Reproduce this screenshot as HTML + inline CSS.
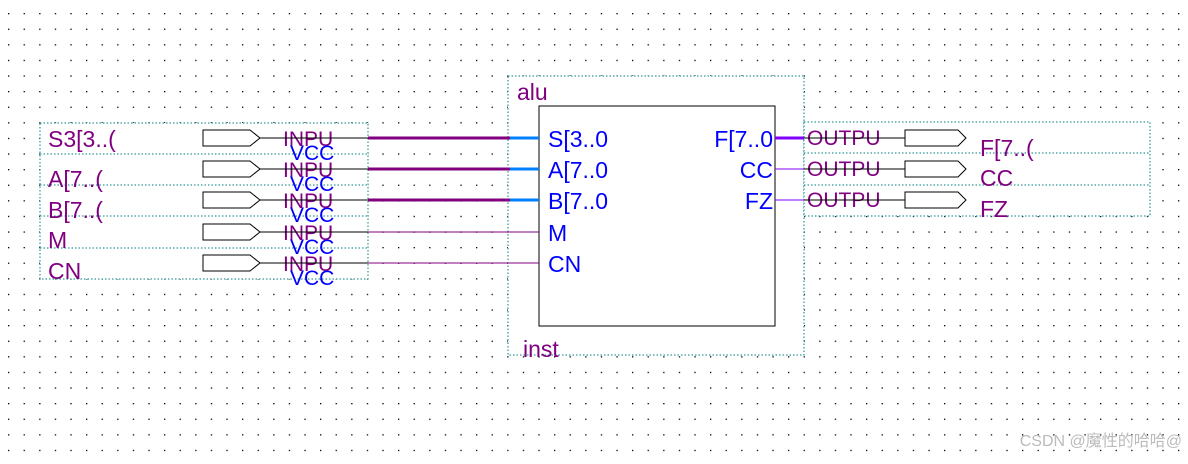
<!DOCTYPE html>
<html><head><style>
body{margin:0;background:#fff}
text{font-family:"Liberation Sans",sans-serif}
</style></head><body>
<svg width="1188" height="459" xmlns="http://www.w3.org/2000/svg">
<defs><pattern id="g" x="8" y="13" width="15.6" height="15.6" patternUnits="userSpaceOnUse"><rect width="1.3" height="1.3" fill="#000"/></pattern></defs>
<rect width="1188" height="459" fill="url(#g)"/>
<g fill="#fff" stroke="#008080" stroke-dasharray="1.5,2" stroke-width="1">
<rect x="40" y="123" width="328" height="156"/>
<rect x="508" y="76" width="296" height="279"/>
<rect x="804" y="122" width="346" height="94"/>
</g>
<g stroke="#008080" stroke-dasharray="1.5,2">
<line x1="40" y1="154" x2="368" y2="154"/><line x1="40" y1="185" x2="368" y2="185"/>
<line x1="40" y1="216" x2="368" y2="216"/><line x1="40" y1="248" x2="368" y2="248"/>
<line x1="804" y1="153" x2="1150" y2="153"/><line x1="804" y1="185" x2="1150" y2="185"/>
</g>
<rect x="539" y="106" width="236" height="220" fill="#fff" stroke="#000"/>
<g font-size="23" fill="#800080">
<text x="48" y="147">S3[3..(</text><text x="48" y="187">A[7..(</text><text x="48" y="218">B[7..(</text>
<text x="48" y="248">M</text><text x="48" y="279">CN</text>
<text x="517" y="100">alu</text><text x="523" y="357">inst</text>
<text x="980" y="156">F[7..(</text><text x="980" y="186">CC</text><text x="980" y="217">FZ</text>
</g>
<g stroke="#000" fill="#fff">
<path d="M203,130 H250 L260,138 L250,146 H203Z"/><path d="M203,161 H250 L260,169 L250,177 H203Z"/>
<path d="M203,192 H250 L260,200 L250,208 H203Z"/><path d="M203,224 H250 L260,232 L250,240 H203Z"/>
<path d="M203,255 H250 L260,263 L250,271 H203Z"/>
<path d="M905,130 H958 L966,138 L958,146 H905Z"/><path d="M905,161 H958 L966,169 L958,177 H905Z"/>
<path d="M905,192 H958 L966,200 L958,208 H905Z"/>
</g>
<g font-size="21">
<g fill="#800080"><text x="283" y="146">INPU</text><text x="283" y="177">INPU</text><text x="283" y="208">INPU</text><text x="283" y="240">INPU</text><text x="283" y="271">INPU</text>
<text x="807" y="145">OUTPU</text><text x="807" y="176">OUTPU</text><text x="807" y="207">OUTPU</text></g>
<g fill="#0000ff"><text x="290" y="160">VCC</text><text x="290" y="191">VCC</text><text x="290" y="222">VCC</text><text x="290" y="254">VCC</text><text x="290" y="285">VCC</text></g>
</g>
<g stroke="#000"><line x1="260" y1="138" x2="368" y2="138"/><line x1="260" y1="169" x2="368" y2="169"/><line x1="260" y1="200" x2="368" y2="200"/><line x1="260" y1="232" x2="368" y2="232"/><line x1="260" y1="263" x2="368" y2="263"/>
<line x1="804" y1="138" x2="905" y2="138"/><line x1="804" y1="169" x2="905" y2="169"/><line x1="804" y1="200" x2="905" y2="200"/></g>
<g stroke="#800080" stroke-width="3"><line x1="368" y1="138" x2="510" y2="138"/><line x1="368" y1="169" x2="510" y2="169"/><line x1="368" y1="200" x2="510" y2="200"/></g>
<g stroke="#0080ff" stroke-width="3"><line x1="510" y1="138" x2="539" y2="138"/><line x1="510" y1="169" x2="539" y2="169"/><line x1="510" y1="200" x2="539" y2="200"/></g>
<g stroke="#800080"><line x1="368" y1="232" x2="539" y2="232"/><line x1="368" y1="263" x2="539" y2="263"/></g>
<line x1="775" y1="138" x2="804" y2="138" stroke="#8000ff" stroke-width="3"/>
<g stroke="#8000ff"><line x1="775" y1="169" x2="804" y2="169"/><line x1="775" y1="200" x2="804" y2="200"/></g>
<g font-size="23" fill="#0000ff">
<text x="548" y="147">S[3..0</text><text x="548" y="178">A[7..0</text><text x="548" y="209">B[7..0</text>
<text x="548" y="241">M</text><text x="548" y="272">CN</text>
<text x="773" y="147" text-anchor="end">F[7..0</text><text x="773" y="178" text-anchor="end">CC</text><text x="773" y="209" text-anchor="end">FZ</text>
</g>
<text x="1182" y="446" text-anchor="end" font-size="16" fill="#bbb" font-family="Liberation Sans,Noto Sans CJK SC,sans-serif">CSDN @魔性的哈哈@</text>
</svg>
</body></html>
